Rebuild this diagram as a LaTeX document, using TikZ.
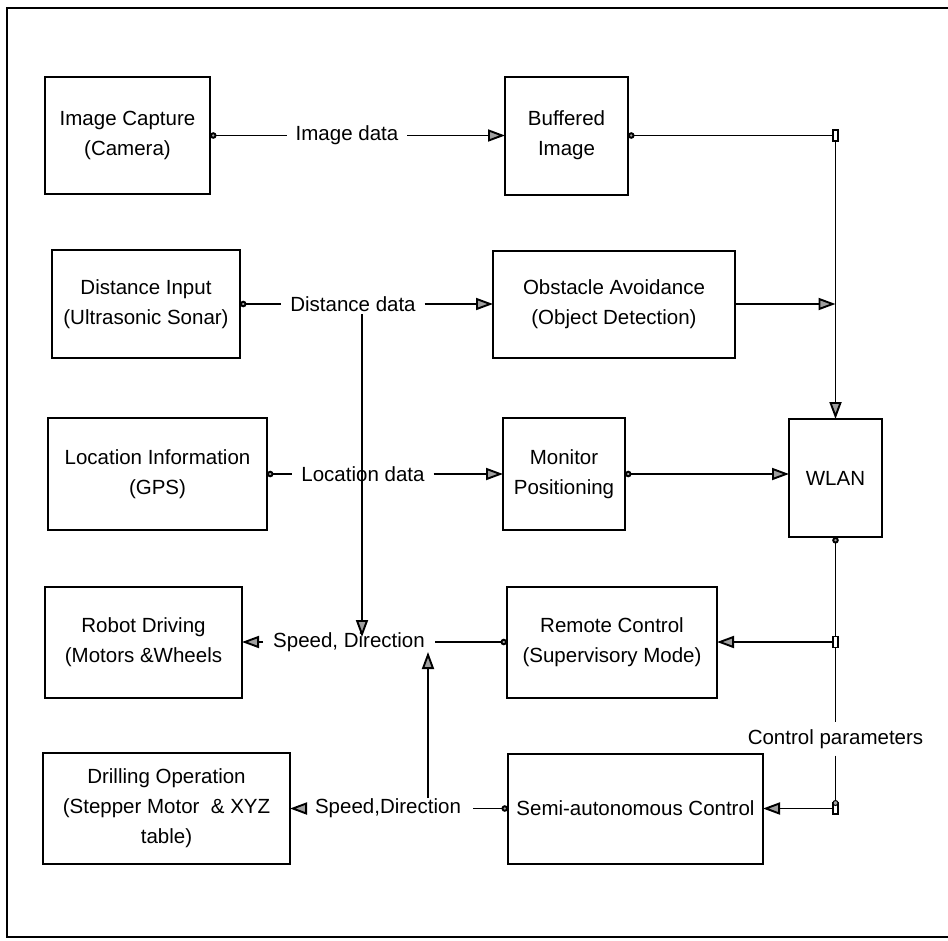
\documentclass[tikz,border=0pt]{standalone}
\usepackage{fontspec}
\setmainfont{Liberation Sans}
\usetikzlibrary{arrows.meta}
\begin{document}
\begin{tikzpicture}[x=1pt,y=-1pt,
  every node/.style={font=\fontsize{20.5}{30}\selectfont},
  blk/.style={draw, line width=2pt, align=center, inner sep=0pt, outer sep=0pt},
  lab/.style={inner xsep=9pt, inner ysep=3pt, outer sep=0pt},
  junc/.style={draw, line width=1.2pt, fill=white, minimum width=5pt, minimum height=11pt, inner sep=0pt, outer sep=0pt},
  jdot/.style={draw, circle, line width=1pt, fill=gray!70, minimum size=5pt, inner sep=0pt},
  wire/.style={line width=1.9pt},
  src/.style={wire, arrows={Circle[length=6.5pt,width=6.5pt,fill=gray!70]-}},
  tip/.style={wire, arrows={-Triangle[length=17pt,width=12pt,fill=gray!75]}},
  srctip/.style={wire, arrows={Circle[length=6.5pt,width=6.5pt,fill=gray!70]-Triangle[length=17pt,width=12pt,fill=gray!75]}},
]
\useasboundingbox (0,0) rectangle (948,940);

% outer frame
\draw[line width=1.8pt] (948,8) -- (7,8) -- (7,937) -- (948,937);

% blocks
\node[blk, minimum width=165pt, minimum height=117pt] (cam)    at (127.5,135.5) {Image Capture\\(Camera)};
\node[blk, minimum width=123pt, minimum height=118pt] (buf)    at (566.5,135.5) {Buffered\\Image};
\node[blk, minimum width=188pt, minimum height=108pt] (dist)   at (146,304)     {Distance Input\\(Ultrasonic Sonar)};
\node[blk, minimum width=242pt, minimum height=107pt] (obst)   at (614,304)     {Obstacle Avoidance\\(Object Detection)};
\node[blk, minimum width=219pt, minimum height=112pt] (loc)    at (157.5,474)   {Location Information\\(GPS)};
\node[blk, minimum width=122pt, minimum height=112pt] (mon)    at (564,474)     {Monitor\\Positioning};
\node[blk, minimum width=93pt,  minimum height=118pt] (wlan)   at (835.5,478)   {WLAN};
\node[blk, minimum width=197pt, minimum height=111pt] (robot)  at (143.5,642)   {Robot Driving\\(Motors \&Wheels};
\node[blk, minimum width=210pt, minimum height=111pt] (remote) at (612,642)     {Remote Control\\(Supervisory Mode)};
\node[blk, minimum width=247pt, minimum height=111pt] (drill)  at (166.5,808.5) {Drilling Operation\\(Stepper Motor \ \& XYZ\\table)};
\node[blk, minimum width=255pt, minimum height=110pt] (semi)   at (635.5,808.5) {Semi-autonomous Control};

% connector labels
\node[lab] (imgdata)  at (347,135.5) {Image data};
\node[lab] (distdata) at (353,304)   {Distance data};
\node[lab] (locdata)  at (363,474)   {Location data};
\node[lab, inner xsep=10pt] (spd1) at (349,642)   {Speed, Direction};
\node[lab, inner xsep=12pt] (spd2) at (388,808.5) {Speed,Direction};
\node[lab, inner ysep=7pt]  (ctrl) at (835.5,739) {Control parameters};

% junctions on the WLAN bus
\node[junc] (j1) at (wlan.north |- buf.east) {};
\coordinate (jo) at (wlan.north |- obst.east);
\coordinate (wi) at (wlan.west |- mon.east);
\node[junc] (j2) at (wlan.south |- remote.east) {};
\node[junc] (j3) at (wlan.south |- semi.east) {};
\node[jdot] (j3d) at (j3.north) {};

% sensor data paths
\draw[src] (cam.east) -- (imgdata.west);
\draw[tip] (imgdata.east) -- (buf.west);
\draw[src] (dist.east) -- (distdata.west);
\draw[tip] (distdata.east) -- (obst.west);
\draw[src] (loc.east) -- (locdata.west);
\draw[tip] (locdata.east) -- (mon.west);

% into the WLAN
\draw[src] (buf.east) -- (j1.west);
\draw[tip] (j1.south) -- (wlan.north);
\draw[tip] (obst.east) -- (jo);
\draw[srctip] (mon.east) -- (wi);

% control parameters out of the WLAN
\draw[src] (wlan.south) -- (j2.north);
\draw[wire] (j2.south) -- (ctrl.north);
\draw[wire] (ctrl.south) -- (j3d.north);
\draw[tip] (j2.west) -- (remote.east);
\draw[tip] (j3.west) -- (semi.east);

% speed and direction commands
\draw[src] (remote.west) -- (spd1.east);
\draw[tip] (spd1.west) -- (robot.east);
\draw[src] (semi.west) -- (spd2.east);
\draw[tip] (spd2.west) -- (drill.east);

% cross links between the rows
\coordinate (dropA) at (362,314);
\coordinate (dropB) at (362,637);
\coordinate (riseA) at (428,798);
\coordinate (riseB) at (428,652);
\draw[tip] (dropA) -- (dropB);
\draw[tip] (riseA) -- (riseB);
\end{tikzpicture}
\end{document}
